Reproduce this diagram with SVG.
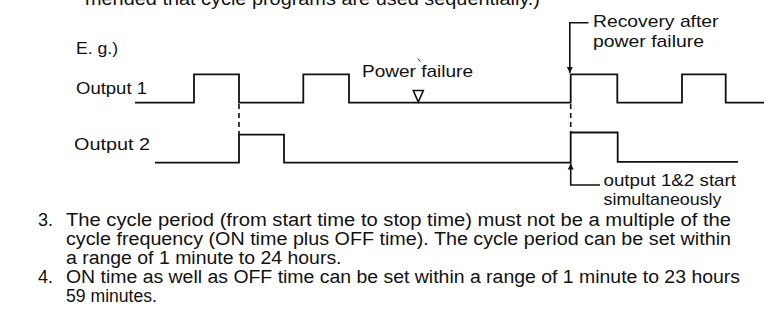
<svg xmlns="http://www.w3.org/2000/svg" width="764" height="323" viewBox="0 0 764 323">
<style>
  .t { font-family: "Liberation Sans", Arial, Helvetica, sans-serif; font-size: 17px; fill: #111; }
  .b { font-family: "Liberation Sans", Arial, Helvetica, sans-serif; font-size: 18px; fill: #111; }
  .sig { fill: none; stroke: #111; stroke-width: 1.8; stroke-linejoin: miter; }
  .dash { fill: none; stroke: #111; stroke-width: 1.6; stroke-dasharray: 5 4; }
  .lead { fill: none; stroke: #111; stroke-width: 1.6; }
</style>
<defs>
  <marker id="ah" viewBox="0 0 6 12" refX="6" refY="6" markerWidth="6" markerHeight="12" markerUnits="userSpaceOnUse" orient="auto">
    <path d="M0,3 L6,6 L0,9 Z" fill="#111"/>
  </marker>
</defs>
<rect width="764" height="323" fill="#fff"/>

<g id="header-text">
  <text class="b" x="85" y="5" textLength="455" lengthAdjust="spacingAndGlyphs">mended that cycle programs are used sequentially.)</text>
  <text class="t" x="76" y="54" textLength="42" lengthAdjust="spacingAndGlyphs">E. g.)</text>
</g>

<g id="output1">
  <text class="t" x="76" y="94" textLength="71" lengthAdjust="spacingAndGlyphs">Output 1</text>
  <path class="sig" d="M135,102.7 H194 V74.3 H239 V102.7 H303.3 V74.3 H349 V102.7 H570.7 V74.3 H617.3 V102.7 H682 V74.3 H725.7 V102.7 H764"/>
</g>

<g id="output2">
  <text class="t" x="74" y="150" textLength="76" lengthAdjust="spacingAndGlyphs">Output 2</text>
  <path class="sig" d="M155,162.7 H239 V134.7 H284 V162.7 H570.7 V132.5 H617.7 V161.8 H738"/>
</g>

<g id="power-failure">
  <text class="t" x="362" y="76.7" textLength="111" lengthAdjust="spacingAndGlyphs">Power failure</text>
  <polygon points="413.3,90.5 423.3,90.5 418.3,102" fill="none" stroke="#111" stroke-width="1.6"/>
  <line x1="417.8" y1="58.3" x2="420.5" y2="61.8" stroke="#333" stroke-width="1"/>
</g>

<g id="recovery">
  <text class="t" x="593" y="26.7" textLength="125.5" lengthAdjust="spacingAndGlyphs">Recovery after</text>
  <text class="t" x="593" y="47" textLength="111" lengthAdjust="spacingAndGlyphs">power failure</text>
</g>

<g id="simultaneous">
  <text class="t" x="603.5" y="186" textLength="132.5" lengthAdjust="spacingAndGlyphs">output 1&amp;2 start</text>
  <text class="t" x="603.5" y="205" textLength="118" lengthAdjust="spacingAndGlyphs">simultaneously</text>
</g>

<g id="connectors">
  <line class="dash" x1="239" y1="104" x2="239" y2="134"/>
  <line class="dash" x1="570.7" y1="104" x2="570.7" y2="132"/>
  <path class="lead" d="M588.5,22.7 H569.8 V73" marker-end="url(#ah)"/>
  <path class="lead" d="M600,185 H570.7 V163.5" marker-end="url(#ah)"/>
</g>

<g id="notes">
  <text class="b" x="38" y="226">3.</text>
  <text class="b" x="66" y="226" textLength="665" lengthAdjust="spacingAndGlyphs">The cycle period (from start time to stop time) must not be a multiple of the</text>
  <text class="b" x="66" y="245" textLength="665" lengthAdjust="spacingAndGlyphs">cycle frequency (ON time plus OFF time). The cycle period can be set within</text>
  <text class="b" x="66" y="264" textLength="275.5" lengthAdjust="spacingAndGlyphs">a range of 1 minute to 24 hours.</text>
  <text class="b" x="38" y="283">4.</text>
  <text class="b" x="66" y="283" textLength="674" lengthAdjust="spacingAndGlyphs">ON time as well as OFF time can be set within a range of 1 minute to 23 hours</text>
  <text class="b" x="66" y="302" textLength="91" lengthAdjust="spacingAndGlyphs">59 minutes.</text>
</g>
</svg>
